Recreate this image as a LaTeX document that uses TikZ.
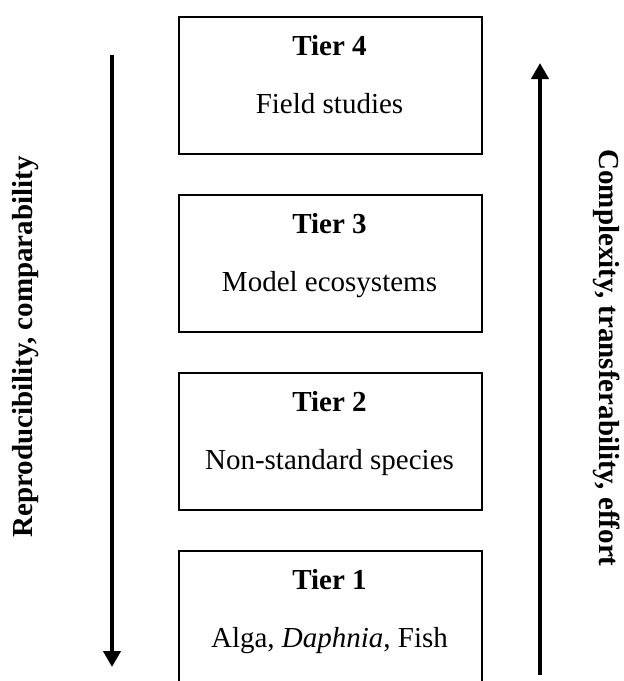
\documentclass[tikz,border=0pt]{standalone}
\usepackage{fontspec}
\setmainfont{Liberation Serif}
\usetikzlibrary{arrows.meta}
\begin{document}
\begin{tikzpicture}[x=0.5pt,y=-0.5pt,
  tierbox/.style={draw,line width=1pt,minimum width=151.5pt,minimum height=68.5pt,inner sep=0pt,anchor=north west},
  titletext/.style={anchor=base,font=\fontsize{14.5}{17}\selectfont\bfseries,inner sep=0pt},
  subtext/.style={anchor=base,font=\fontsize{14.5}{17}\selectfont,inner sep=0pt},
  sidetext/.style={font=\fontsize{14.5}{17}\selectfont\bfseries,inner sep=0pt},
  bigarrow/.style={line width=2pt,-{Triangle[length=8pt,width=8.5pt]}}]
\useasboundingbox (0,0) rectangle (624,681);
\clip (0,0) rectangle (624,681);
\node[tierbox] (b4) at (178,16) {};
\node[tierbox] (b3) at (178,194) {};
\node[tierbox] (b2) at (178,372) {};
\node[tierbox] (b1) at (178,550) {};
\node[titletext] (t4) at (329.5,55) {Tier 4};
\node[subtext] (s4) at (329.5,113) {Field studies};
\node[titletext] (t3) at (329.5,233) {Tier 3};
\node[subtext] (s3) at (329.5,291) {Model ecosystems};
\node[titletext] (t2) at (329.5,411) {Tier 2};
\node[subtext] (s2) at (329.5,469) {Non-standard species};
\node[titletext] (t1) at (329.5,589) {Tier 1};
\node[subtext] (s1) at (329.5,647) {Alga, \textit{Daphnia}, Fish};
\coordinate (la1) at (112,55);
\coordinate (la2) at (112,667);
\draw[bigarrow] (la1) -- (la2);
\coordinate (ra1) at (540,675);
\coordinate (ra2) at (540,63);
\draw[bigarrow] (ra1) -- (ra2);
\node[sidetext,rotate=90] (lt) at (26,347) {Reproducibility, comparability};
\node[sidetext,rotate=-90] (rt) at (607,358) {Complexity, transferability, effort};
\end{tikzpicture}
\end{document}
